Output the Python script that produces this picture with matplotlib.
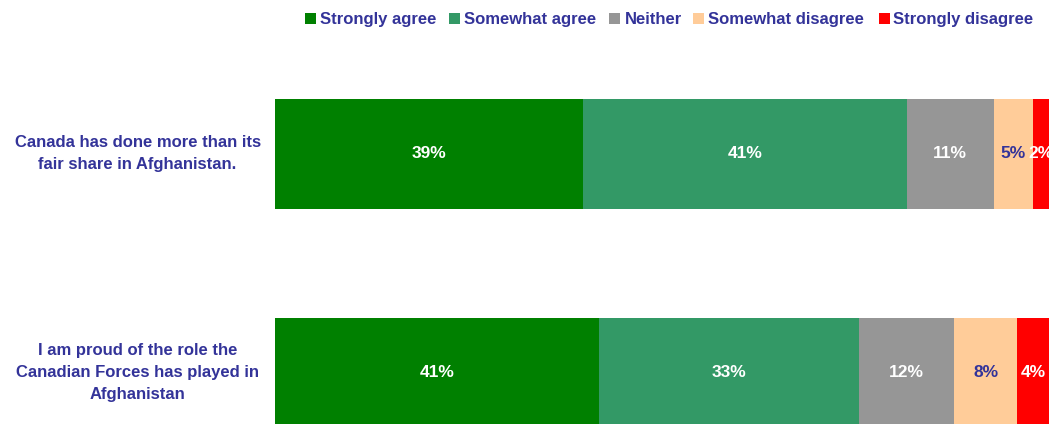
import matplotlib
matplotlib.use("Agg")
import matplotlib.pyplot as plt
from matplotlib.patches import Rectangle

categories = [
    "Canada has done more than its\nfair share in Afghanistan.",
    "I am proud of the role the\nCanadian Forces has played in\nAfghanistan",
]
series_names = ["Strongly agree", "Somewhat agree", "Neither",
                "Somewhat disagree", "Strongly disagree"]
values = {
    "Strongly agree": [39, 41],
    "Somewhat agree": [41, 33],
    "Neither": [11, 12],
    "Somewhat disagree": [5, 8],
    "Strongly disagree": [2, 4],
}
colors = ["#008000", "#339966", "#969696", "#FFCC99", "#FF0000"]
label_colors = ["white", "white", "white", "#333399", "white"]
text_color = "#333399"

plt.rcParams["font.family"] = ["Liberation Sans", "DejaVu Sans"]

W, H = 1049, 424
fig = plt.figure(figsize=(W / 100, H / 100), dpi=100)
ax_left, ax_right = 275, 1049
ax_top, ax_bottom = 99, 424
ax = fig.add_axes([ax_left / W, 1 - ax_bottom / H,
                   (ax_right - ax_left) / W, (ax_bottom - ax_top) / H])

ypos = [1, 0]
bar_h = 0.5
left = [0, 0]
for name, col, lcol in zip(series_names, colors, label_colors):
    vals = values[name]
    ax.barh(ypos, vals, left=left, height=bar_h, color=col, edgecolor="none")
    for y, v, l in zip(ypos, vals, left):
        ax.text(l + v / 2, y, f"{v}%", ha="center", va="center",
                color=lcol, fontsize=12.5, fontweight="bold")
    left = [a + b for a, b in zip(left, vals)]

ax.set_xlim(0, 98)
ax.set_ylim(1.25 - (ax_bottom - ax_top) / 219, 1.25)
ax.axis("off")

for y, cat in zip(ypos, categories):
    ax.text(-17.4, y, cat, ha="center", va="center", color=text_color,
            fontsize=12, fontweight="bold", linespacing=1.6,
            transform=ax.transData, clip_on=False)

# legend row along the top, laid out in pixel coordinates
swatch_x = [305, 449, 609, 693, 879]
label_x = [320, 464, 625, 708, 893]
legend_y = 18
sw = 11
for name, col, sx, tx in zip(series_names, colors, swatch_x, label_x):
    fig.patches.append(Rectangle((sx / W, 1 - (legend_y + sw / 2) / H),
                                 sw / W, sw / H, transform=fig.transFigure,
                                 facecolor=col, edgecolor="none"))
    fig.text(tx / W, 1 - legend_y / H, name, ha="left", va="center_baseline",
             color=text_color, fontsize=12, fontweight="bold")

fig.savefig("out.png", dpi=100)
